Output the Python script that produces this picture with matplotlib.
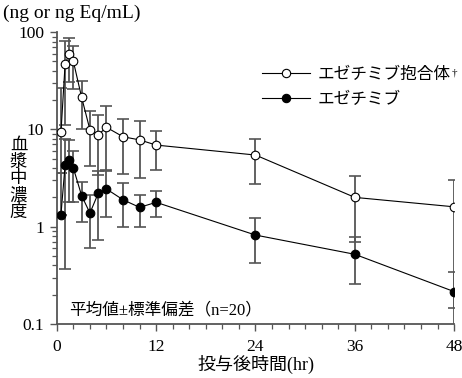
import matplotlib
matplotlib.use("Agg")
import matplotlib.pyplot as plt
from matplotlib.ticker import FixedLocator, LogLocator, NullFormatter, FixedFormatter
from matplotlib.lines import Line2D

plt.rcParams['font.family'] = ['Liberation Serif', 'Noto Sans CJK JP']

# ---- data ----
t = [0.5, 1, 1.5, 2, 3, 4, 5, 6, 8, 10, 12, 24, 36, 48]
conj_mean = [9.3, 47, 59.6, 50, 21.3, 9.9, 8.8, 10.5, 8.4, 7.8, 6.9, 5.45, 2.0, 1.6]
conj_hi = [26.6, 82, 88, 72, 31.5, 15.6, 14.1, 17.2, 12.7, 12.3, 9.7, 7.95, 3.3, 3.0]
conj_lo = [3.6, 11, 31, 26, 10, 4.2, 3.4, 3.8, 3.5, 3.2, 3.8, 2.75, 0.7, 0.145]
eze_mean = [1.33, 4.3, 4.8, 4.0, 2.08, 1.38, 2.2, 2.44, 1.89, 1.58, 1.78, 0.82, 0.52, 0.215]
eze_hi = [3.6, 7.9, 7.8, 6.0, 2.9, 2.1, 3.7, 3.7, 2.8, 2.1, 2.3, 1.22, 0.78, 0.345]
eze_lo = [1.33, 0.37, 1.78, 1.8, 1.12, 0.61, 0.73, 1.25, 1.0, 1.0, 1.27, 0.42, 0.26, 0.085]

x_ticks = [0, 12, 24, 36, 48]
y_ticks = [0.1, 1, 10, 100]
y_ticklabels = ['0.1', '1', '10', '100']
label_conj = 'エゼチミブ抱合体'
label_dagger = '†'
label_eze = 'エゼチミブ'
unit_text = '(ng or ng Eq/mL)'
ylabel_text = '血漿中濃度'
xlabel_text = '投与後時間(hr)'
note_text = '平均値±標準偏差（n=20）'

fig = plt.figure(figsize=(4.62, 3.78), dpi=100)
ax = fig.add_axes([0.123, 0.143, 0.860, 0.772])

ax.set_yscale('log')
ax.set_xlim(0, 48)
ax.set_ylim(0.1, 100)

ecol = '#555555'
for mean, lo, hi, face in [(conj_mean, conj_lo, conj_hi, 'white'),
                           (eze_mean, eze_lo, eze_hi, 'black')]:
    yerr = [[m - l for m, l in zip(mean, lo)], [h - m for m, h in zip(mean, hi)]]
    ax.errorbar(t, mean, yerr=yerr, fmt='none', ecolor=ecol, elinewidth=1.3,
                capsize=4, capthick=1.2, zorder=2)
    ax.plot(t, mean, color='black', lw=0.8, marker='o', ms=6.2,
            mfc=face, mec='black', mew=0.8, zorder=3)

for s in ['top', 'right']:
    ax.spines[s].set_visible(False)
for s in ['left', 'bottom']:
    ax.spines[s].set_color('#555555')
    ax.spines[s].set_linewidth(1.3)

ax.xaxis.set_major_locator(FixedLocator(x_ticks))
ax.xaxis.set_minor_locator(FixedLocator(list(range(0, 49, 2))))
ax.yaxis.set_major_locator(FixedLocator(y_ticks))
ax.yaxis.set_major_formatter(FixedFormatter(y_ticklabels))
ax.yaxis.set_minor_locator(LogLocator(base=10, subs=range(2, 10)))
ax.yaxis.set_minor_formatter(NullFormatter())
ax.tick_params(axis='both', which='major', direction='out', length=5, width=1.0,
               color='#555555', labelsize=12.5)
ax.tick_params(axis='both', which='minor', direction='out', length=3.5, width=0.9,
               color='#555555')
ax.tick_params(axis='x', pad=6)
ax.tick_params(axis='y', pad=4)

fig.text(0.006, 0.965, unit_text, fontsize=14, ha='left', va='center')
fig.text(0.040, 0.525, '\n'.join(ylabel_text), fontsize=12.5, ha='center', va='center',
         linespacing=1.05)
ax.set_xlabel(xlabel_text, fontsize=13, labelpad=0)
ax.text(0.030, 0.045, note_text, transform=ax.transAxes, fontsize=12, ha='left',
        va='center')

h1 = Line2D([], [], color='black', lw=0.8, marker='o', ms=6, mfc='white', mec='black', mew=0.8)
h2 = Line2D([], [], color='black', lw=0.8, marker='o', ms=6, mfc='black', mec='black', mew=0.8)
leg = ax.legend([h1, h2], [label_conj, label_eze], loc='upper left',
                bbox_to_anchor=(0.50, 0.905), frameon=False, fontsize=12,
                handlelength=2.9, handletextpad=0.45, labelspacing=0.55, borderaxespad=0)

fig.canvas.draw()
bb = leg.get_texts()[0].get_window_extent()
fig.text((bb.x1 + 1) / fig.bbox.width, (bb.y1 - 2) / fig.bbox.height, label_dagger,
         fontsize=8, ha='left', va='top')

fig.savefig('out.png', dpi=100)
